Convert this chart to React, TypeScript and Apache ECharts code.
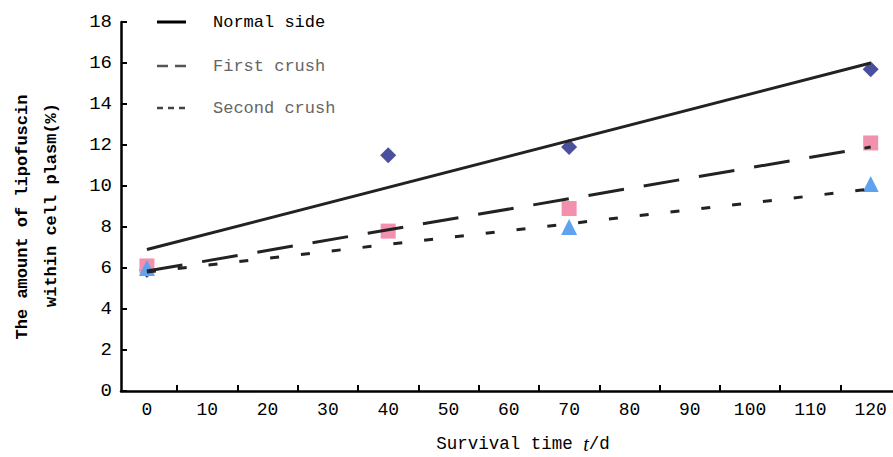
import React, { useEffect, useRef } from "react";
import * as echarts from "echarts";

const xLabelValues = [0, 10, 20, 30, 40, 50, 60, 70, 80, 90, 100, 110, 120];
const xTickValues = [5, 15, 25, 35, 45, 55, 65, 75, 85, 95, 105, 115];

const normalPoints = [
  [0, 5.9],
  [40, 11.5],
  [70, 11.9],
  [120, 15.7],
];
const firstPoints = [
  [0, 6.1],
  [40, 7.8],
  [70, 8.9],
  [120, 12.1],
];
const secondPoints = [
  [0, 6.0],
  [70, 8.0],
  [120, 10.1],
];

const normalTrend = [
  [0, 6.9],
  [120, 16.0],
];
const firstTrend = [
  [0, 5.85],
  [120, 11.9],
];
const secondTrend = [
  [0, 5.8],
  [120, 9.85],
];

const MONO = '"Liberation Mono", "DejaVu Sans Mono", monospace';

export default function App() {
  const ref = useRef<HTMLDivElement>(null);

  useEffect(() => {
    if (!ref.current) return;
    const chart = echarts.init(ref.current, null, { renderer: "svg" });
    const lineColor = "#222";
    chart.setOption({
      animation: false,
      backgroundColor: "#fff",
      grid: {
        left: 121,
        top: 22,
        width: 772,
        height: 369,
        containLabel: false,
        outerBoundsMode: "none",
      },
      xAxis: {
        type: "value",
        min: -4.3,
        max: 123.7,
        axisLine: { show: true, onZero: false, lineStyle: { color: "#000", width: 2.5 } },
        axisTick: {
          show: true,
          inside: true,
          length: 6,
          customValues: xTickValues,
          lineStyle: { color: "#000", width: 2 },
        },
        axisLabel: {
          customValues: xLabelValues,
          margin: 10,
          color: "#000",
          fontFamily: MONO,
          fontSize: 18,
        },
        splitLine: { show: false },
      },
      yAxis: {
        type: "value",
        min: 0,
        max: 18,
        interval: 2,
        axisLine: { show: true, onZero: false, lineStyle: { color: "#000", width: 2.5 } },
        axisTick: { show: true, inside: true, length: 6, lineStyle: { color: "#000", width: 2 } },
        axisLabel: { margin: 9, color: "#000", fontFamily: MONO, fontSize: 19 },
        splitLine: { show: false },
      },
      graphic: [
        {
          type: "text",
          x: 523,
          y: 444,
          style: {
            text: "{a|Survival time }{i|t}{a|/d}",
            align: "center",
            verticalAlign: "middle",
            rich: {
              a: { fontFamily: MONO, fontSize: 17.5, fill: "#000", lineHeight: 20 },
              i: {
                fontFamily: '"Liberation Serif", serif',
                fontStyle: "italic",
                fontSize: 20,
                fill: "#000",
                lineHeight: 20,
              },
            },
          },
        },
        {
          type: "text",
          x: 22,
          y: 217,
          rotation: Math.PI / 2,
          style: {
            text: "The amount of lipofuscin",
            fontFamily: MONO,
            fontSize: 17,
            fontWeight: "bold",
            fill: "#000",
            align: "center",
            verticalAlign: "middle",
          },
        },
        {
          type: "text",
          x: 51,
          y: 205,
          rotation: Math.PI / 2,
          style: {
            text: "within cell plasm(%)",
            fontFamily: MONO,
            fontSize: 17,
            fontWeight: "bold",
            fill: "#000",
            align: "center",
            verticalAlign: "middle",
          },
        },
        {
          type: "line",
          shape: { x1: 157, y1: 22, x2: 186, y2: 22 },
          style: { stroke: "#000", lineWidth: 3 },
        },
        {
          type: "line",
          shape: { x1: 157, y1: 66, x2: 187, y2: 66 },
          style: { stroke: "#555", lineWidth: 2.5, lineDash: [11, 7] },
        },
        {
          type: "line",
          shape: { x1: 157, y1: 108, x2: 187, y2: 108 },
          style: { stroke: "#444", lineWidth: 2.5, lineDash: [6, 5] },
        },
        {
          type: "text",
          x: 213,
          y: 22,
          style: { text: "Normal side", fontFamily: MONO, fontSize: 17, fill: "#000", verticalAlign: "middle" },
        },
        {
          type: "text",
          x: 213,
          y: 66,
          style: { text: "First crush", fontFamily: MONO, fontSize: 17, fill: "#666", verticalAlign: "middle" },
        },
        {
          type: "text",
          x: 213,
          y: 108,
          style: { text: "Second crush", fontFamily: MONO, fontSize: 17, fill: "#666", verticalAlign: "middle" },
        },
      ],
      series: [
        {
          name: "Normal side points",
          type: "scatter",
          data: normalPoints,
          symbol: "diamond",
          symbolSize: 16,
          itemStyle: { color: "#4a4f9e", opacity: 1 },
          z: 2,
        },
        {
          name: "First crush points",
          type: "scatter",
          data: firstPoints,
          symbol: "rect",
          symbolSize: 15,
          itemStyle: { color: "#f290ae", opacity: 1 },
          z: 2,
        },
        {
          name: "Second crush points",
          type: "scatter",
          data: secondPoints,
          symbol: "triangle",
          symbolSize: 16,
          itemStyle: { color: "#5fa2f0", opacity: 1 },
          z: 3,
        },
        {
          name: "Normal side",
          type: "line",
          data: normalTrend,
          symbol: "none",
          lineStyle: { color: lineColor, width: 3, type: "solid" },
          z: 4,
        },
        {
          name: "First crush",
          type: "line",
          data: firstTrend,
          symbol: "none",
          lineStyle: { color: lineColor, width: 3, type: [36, 20] },
          z: 4,
        },
        {
          name: "Second crush",
          type: "line",
          data: secondTrend,
          symbol: "none",
          lineStyle: { color: lineColor, width: 3, type: [9, 22] },
          z: 4,
        },
      ],
    });
    return () => chart.dispose();
  }, []);

  return (
    <div
      ref={ref}
      style={{ position: "fixed", left: 0, top: 0, width: 893, height: 457 }}
    />
  );
}
